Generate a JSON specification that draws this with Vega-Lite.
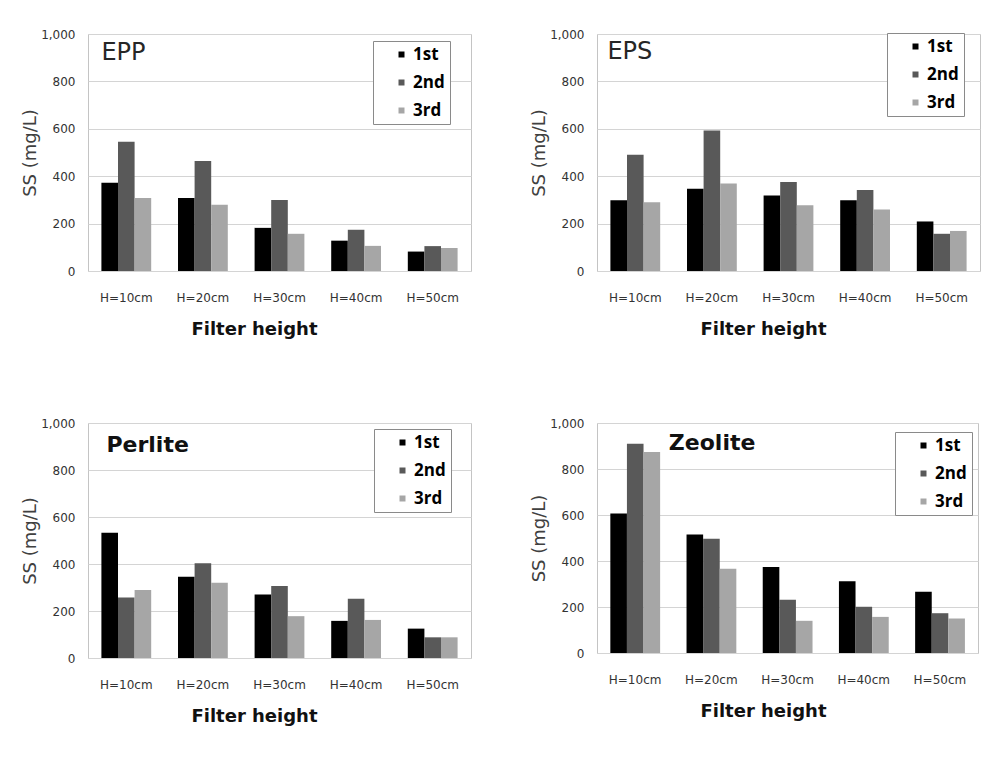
{
  "$schema": "https://vega.github.io/schema/vega-lite/v6.json",
  "background": "white",
  "padding": {"left": 21, "top": 27, "right": 0, "bottom": 0},
  "data": {"values": [
    {"material": "EPP", "height": "H=10cm", "run": "1st", "ss": 372},
    {"material": "EPP", "height": "H=10cm", "run": "2nd", "ss": 545},
    {"material": "EPP", "height": "H=10cm", "run": "3rd", "ss": 308},
    {"material": "EPP", "height": "H=20cm", "run": "1st", "ss": 308},
    {"material": "EPP", "height": "H=20cm", "run": "2nd", "ss": 464},
    {"material": "EPP", "height": "H=20cm", "run": "3rd", "ss": 280},
    {"material": "EPP", "height": "H=30cm", "run": "1st", "ss": 182},
    {"material": "EPP", "height": "H=30cm", "run": "2nd", "ss": 300},
    {"material": "EPP", "height": "H=30cm", "run": "3rd", "ss": 157},
    {"material": "EPP", "height": "H=40cm", "run": "1st", "ss": 128},
    {"material": "EPP", "height": "H=40cm", "run": "2nd", "ss": 174},
    {"material": "EPP", "height": "H=40cm", "run": "3rd", "ss": 106},
    {"material": "EPP", "height": "H=50cm", "run": "1st", "ss": 82},
    {"material": "EPP", "height": "H=50cm", "run": "2nd", "ss": 105},
    {"material": "EPP", "height": "H=50cm", "run": "3rd", "ss": 97},
    {"material": "EPS", "height": "H=10cm", "run": "1st", "ss": 299},
    {"material": "EPS", "height": "H=10cm", "run": "2nd", "ss": 491},
    {"material": "EPS", "height": "H=10cm", "run": "3rd", "ss": 290},
    {"material": "EPS", "height": "H=20cm", "run": "1st", "ss": 347},
    {"material": "EPS", "height": "H=20cm", "run": "2nd", "ss": 593},
    {"material": "EPS", "height": "H=20cm", "run": "3rd", "ss": 369},
    {"material": "EPS", "height": "H=30cm", "run": "1st", "ss": 319},
    {"material": "EPS", "height": "H=30cm", "run": "2nd", "ss": 376},
    {"material": "EPS", "height": "H=30cm", "run": "3rd", "ss": 277},
    {"material": "EPS", "height": "H=40cm", "run": "1st", "ss": 299},
    {"material": "EPS", "height": "H=40cm", "run": "2nd", "ss": 342},
    {"material": "EPS", "height": "H=40cm", "run": "3rd", "ss": 260},
    {"material": "EPS", "height": "H=50cm", "run": "1st", "ss": 209},
    {"material": "EPS", "height": "H=50cm", "run": "2nd", "ss": 157},
    {"material": "EPS", "height": "H=50cm", "run": "3rd", "ss": 169},
    {"material": "Perlite", "height": "H=10cm", "run": "1st", "ss": 533},
    {"material": "Perlite", "height": "H=10cm", "run": "2nd", "ss": 257},
    {"material": "Perlite", "height": "H=10cm", "run": "3rd", "ss": 289},
    {"material": "Perlite", "height": "H=20cm", "run": "1st", "ss": 346},
    {"material": "Perlite", "height": "H=20cm", "run": "2nd", "ss": 403},
    {"material": "Perlite", "height": "H=20cm", "run": "3rd", "ss": 320},
    {"material": "Perlite", "height": "H=30cm", "run": "1st", "ss": 270},
    {"material": "Perlite", "height": "H=30cm", "run": "2nd", "ss": 306},
    {"material": "Perlite", "height": "H=30cm", "run": "3rd", "ss": 178},
    {"material": "Perlite", "height": "H=40cm", "run": "1st", "ss": 158},
    {"material": "Perlite", "height": "H=40cm", "run": "2nd", "ss": 252},
    {"material": "Perlite", "height": "H=40cm", "run": "3rd", "ss": 162},
    {"material": "Perlite", "height": "H=50cm", "run": "1st", "ss": 125},
    {"material": "Perlite", "height": "H=50cm", "run": "2nd", "ss": 88},
    {"material": "Perlite", "height": "H=50cm", "run": "3rd", "ss": 88},
    {"material": "Zeolite", "height": "H=10cm", "run": "1st", "ss": 606},
    {"material": "Zeolite", "height": "H=10cm", "run": "2nd", "ss": 910},
    {"material": "Zeolite", "height": "H=10cm", "run": "3rd", "ss": 874},
    {"material": "Zeolite", "height": "H=20cm", "run": "1st", "ss": 515},
    {"material": "Zeolite", "height": "H=20cm", "run": "2nd", "ss": 497},
    {"material": "Zeolite", "height": "H=20cm", "run": "3rd", "ss": 366},
    {"material": "Zeolite", "height": "H=30cm", "run": "1st", "ss": 374},
    {"material": "Zeolite", "height": "H=30cm", "run": "2nd", "ss": 231},
    {"material": "Zeolite", "height": "H=30cm", "run": "3rd", "ss": 140},
    {"material": "Zeolite", "height": "H=40cm", "run": "1st", "ss": 312},
    {"material": "Zeolite", "height": "H=40cm", "run": "2nd", "ss": 201},
    {"material": "Zeolite", "height": "H=40cm", "run": "3rd", "ss": 157},
    {"material": "Zeolite", "height": "H=50cm", "run": "1st", "ss": 266},
    {"material": "Zeolite", "height": "H=50cm", "run": "2nd", "ss": 173},
    {"material": "Zeolite", "height": "H=50cm", "run": "3rd", "ss": 150}
  ]},
  "columns": 2,
  "spacing": {"row": 77, "column": 58},
  "concat": [
    {
      "width": 383, "height": 237,
      "layer": [
        {
          "transform": [{"filter": "datum.material === 'EPP'"}],
          "mark": "bar",
          "encoding": {
            "x": {"field": "height", "type": "nominal", "sort": ["H=10cm","H=20cm","H=30cm","H=40cm","H=50cm"], "scale": {"paddingInner": 0.35, "paddingOuter": 0.175}, "axis": {"title": "Filter height"}},
            "xOffset": {"field": "run", "type": "nominal", "sort": ["1st","2nd","3rd"]},
            "y": {"field": "ss", "type": "quantitative", "scale": {"domain": [0, 1000]}, "axis": {"title": "SS (mg/L)", "values": [0,200,400,600,800,1000], "format": ",d"}},
            "color": {"field": "run", "type": "nominal", "scale": {"domain": ["1st","2nd","3rd"], "range": ["#000000","#595959","#a6a6a6"]}, "legend": {"legendX": 285, "legendY": 7}}
          }
        },
        {
          "data": {"values": [{"name": "EPP"}]},
          "mark": {"type": "text", "align": "left", "baseline": "top", "dx": 0, "dy": 7, "fontSize": 24, "fontWeight": "normal", "color": "#262626"},
          "encoding": {
            "x": {"datum": "H=10cm", "bandPosition": 0},
            "y": {"datum": 1000},
            "text": {"field": "name"}
          }
        }
      ]
    },
    {
      "width": 383, "height": 237,
      "layer": [
        {
          "transform": [{"filter": "datum.material === 'EPS'"}],
          "mark": "bar",
          "encoding": {
            "x": {"field": "height", "type": "nominal", "sort": ["H=10cm","H=20cm","H=30cm","H=40cm","H=50cm"], "scale": {"paddingInner": 0.35, "paddingOuter": 0.175}, "axis": {"title": "Filter height"}},
            "xOffset": {"field": "run", "type": "nominal", "sort": ["1st","2nd","3rd"]},
            "y": {"field": "ss", "type": "quantitative", "scale": {"domain": [0, 1000]}, "axis": {"title": "SS (mg/L)", "values": [0,200,400,600,800,1000], "format": ",d"}},
            "color": {"field": "run", "type": "nominal", "scale": {"domain": ["1st","2nd","3rd"], "range": ["#000000","#595959","#a6a6a6"]}, "legend": {"legendX": 290, "legendY": -1}}
          }
        },
        {
          "data": {"values": [{"name": "EPS"}]},
          "mark": {"type": "text", "align": "left", "baseline": "top", "dx": -3, "dy": 6, "fontSize": 24, "fontWeight": "normal", "color": "#262626"},
          "encoding": {
            "x": {"datum": "H=10cm", "bandPosition": 0},
            "y": {"datum": 1000},
            "text": {"field": "name"}
          }
        }
      ]
    },
    {
      "width": 383, "height": 235,
      "layer": [
        {
          "transform": [{"filter": "datum.material === 'Perlite'"}],
          "mark": "bar",
          "encoding": {
            "x": {"field": "height", "type": "nominal", "sort": ["H=10cm","H=20cm","H=30cm","H=40cm","H=50cm"], "scale": {"paddingInner": 0.35, "paddingOuter": 0.175}, "axis": {"title": "Filter height"}},
            "xOffset": {"field": "run", "type": "nominal", "sort": ["1st","2nd","3rd"]},
            "y": {"field": "ss", "type": "quantitative", "scale": {"domain": [0, 1000]}, "axis": {"title": "SS (mg/L)", "values": [0,200,400,600,800,1000], "format": ",d"}},
            "color": {"field": "run", "type": "nominal", "scale": {"domain": ["1st","2nd","3rd"], "range": ["#000000","#595959","#a6a6a6"]}, "legend": {"legendX": 286, "legendY": 6}}
          }
        },
        {
          "data": {"values": [{"name": "Perlite"}]},
          "mark": {"type": "text", "align": "left", "baseline": "top", "dx": 5, "dy": 12, "fontSize": 22, "fontWeight": "bold", "color": "#111111"},
          "encoding": {
            "x": {"datum": "H=10cm", "bandPosition": 0},
            "y": {"datum": 1000},
            "text": {"field": "name"}
          }
        }
      ]
    },
    {
      "width": 381, "height": 230,
      "layer": [
        {
          "transform": [{"filter": "datum.material === 'Zeolite'"}],
          "mark": "bar",
          "encoding": {
            "x": {"field": "height", "type": "nominal", "sort": ["H=10cm","H=20cm","H=30cm","H=40cm","H=50cm"], "scale": {"paddingInner": 0.35, "paddingOuter": 0.175}, "axis": {"title": "Filter height"}},
            "xOffset": {"field": "run", "type": "nominal", "sort": ["1st","2nd","3rd"]},
            "y": {"field": "ss", "type": "quantitative", "scale": {"domain": [0, 1000]}, "axis": {"title": "SS (mg/L)", "values": [0,200,400,600,800,1000], "format": ",d"}},
            "color": {"field": "run", "type": "nominal", "scale": {"domain": ["1st","2nd","3rd"], "range": ["#000000","#595959","#a6a6a6"]}, "legend": {"legendX": 298, "legendY": 9}}
          }
        },
        {
          "data": {"values": [{"name": "Zeolite"}]},
          "mark": {"type": "text", "align": "left", "baseline": "top", "dx": 9, "dy": 10, "fontSize": 22, "fontWeight": "bold", "color": "#111111"},
          "encoding": {
            "x": {"datum": "H=10cm", "bandPosition": 1},
            "y": {"datum": 1000},
            "text": {"field": "name"}
          }
        }
      ]
    }
  ],
  "resolve": {"scale": {"color": "independent"}},
  "config": {
    "font": "DejaVu Sans",
    "view": {"stroke": "#c4c4c4", "strokeWidth": 1},
    "text": {"font": "DejaVu Sans"},
    "axis": {
      "labelFont": "DejaVu Sans", "labelFontSize": 12, "labelColor": "#333333",
      "ticks": false, "domain": false,
      "titleFont": "DejaVu Sans"
    },
    "axisX": {
      "grid": false, "labelAngle": 0, "labelPadding": 21,
      "titleFontSize": 18, "titleFontWeight": "bold", "titleColor": "#111111",
      "titlePadding": 17, "titleX": 166
    },
    "axisY": {
      "grid": true, "gridColor": "#d4d4d4", "labelPadding": 13,
      "titleFontSize": 18, "titleFontWeight": "normal", "titleColor": "#404040",
      "titlePadding": 1
    },
    "legend": {
      "orient": "none", "title": null, "fillColor": "white", "strokeColor": "#8a8a8a",
      "padding": 5, "rowPadding": 10,
      "symbolType": "square", "symbolSize": 36, "symbolStrokeWidth": 0, "symbolOffset": 15,
      "labelFont": "Open Sans", "labelFontSize": 17, "labelFontWeight": "bold", "labelColor": "#000000", "labelOffset": 3
    },
    "bar": {"stroke": null}
  }
}
